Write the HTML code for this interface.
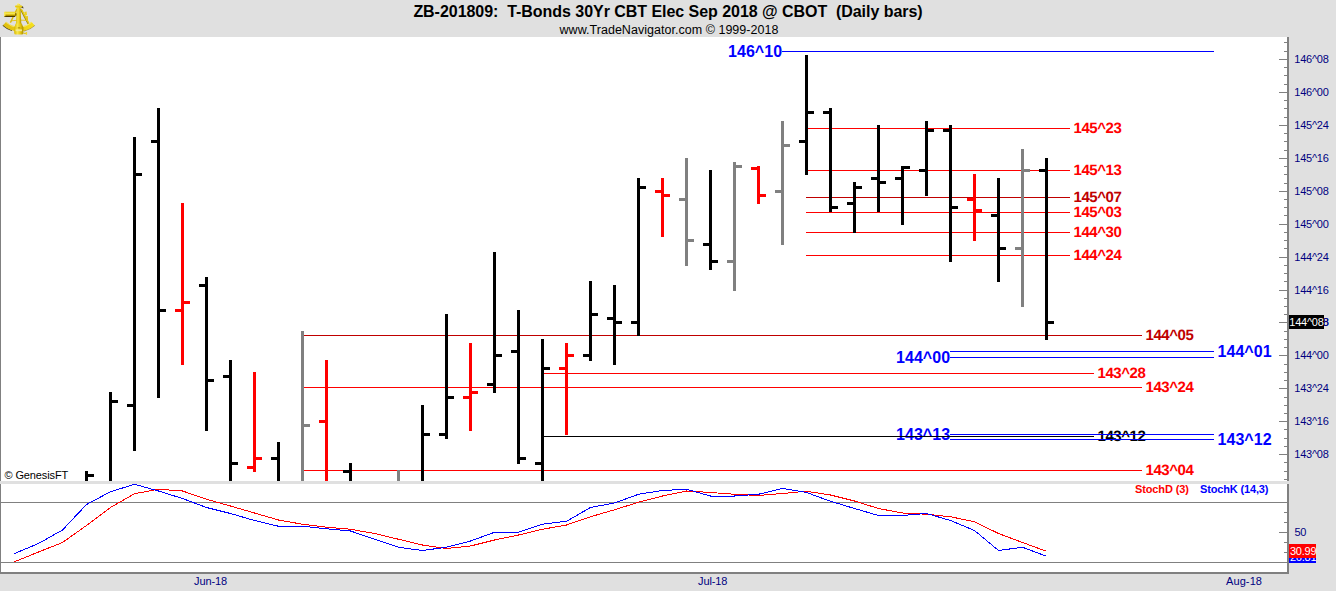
<!DOCTYPE html>
<html><head><meta charset="utf-8"><title>ZB-201809</title>
<style>
html,body{margin:0;padding:0}
body{width:1336px;height:591px;overflow:hidden;background:#e0e0e0;position:relative;font-family:"Liberation Sans",sans-serif}
#hdr{position:absolute;left:0;top:0;width:1336px;height:37px;background:#e0e0e0}
#title{position:absolute;left:0;top:2px;letter-spacing:-0.04px;width:1336px;text-align:center;font-weight:bold;font-size:16px;line-height:20px;color:#000;white-space:pre}
#sub{position:absolute;left:1px;top:22.5px;width:1336px;text-align:center;font-size:12.5px;letter-spacing:0.03px;line-height:14px;color:#000;white-space:pre}
#main{position:absolute;left:0;top:37px;width:1287px;height:444px;background:#fff;overflow:hidden}
#main i,#ov i,#ov2 i{position:absolute;display:block}
#plot{position:absolute;left:0;top:-37px;width:1336px;height:591px}
#plot i{position:absolute;display:block}
#plot b{position:absolute;display:block;white-space:nowrap}
.l14{font-size:15px;line-height:14px;letter-spacing:-0.42px;text-rendering:geometricPrecision}
.l16{font-size:16px;line-height:16px;letter-spacing:0.05px}
.ax{position:absolute;font-size:11px;line-height:12px;color:#000080;white-space:nowrap;letter-spacing:-0.25px}
.vb{position:absolute;background:#808080}
#st{position:absolute;left:0;top:484px;width:1287px;height:88px;background:#fff;overflow:hidden}
.t11{position:absolute;font-size:11px;line-height:12px;white-space:nowrap}
</style></head><body>
<div id="hdr">
<svg style="position:absolute;left:0;top:0" width="40" height="37" viewBox="0 0 40 37">
<defs>
<linearGradient id="gcol" x1="0" x2="1" y1="0" y2="0"><stop offset="0" stop-color="#d8b800"/><stop offset="0.35" stop-color="#f7e54a"/><stop offset="0.7" stop-color="#e2c20c"/><stop offset="1" stop-color="#a88c00"/></linearGradient>
<linearGradient id="gtel" x1="0" x2="0" y1="0" y2="1"><stop offset="0" stop-color="#e9cc10"/><stop offset="0.3" stop-color="#f8ea55"/><stop offset="0.65" stop-color="#d4b000"/><stop offset="0.85" stop-color="#5a4400"/><stop offset="1" stop-color="#2a1e00"/></linearGradient>
<linearGradient id="garc" x1="0" x2="1" y1="0" y2="0"><stop offset="0" stop-color="#e0c010"/><stop offset="0.5" stop-color="#e8c912"/><stop offset="1" stop-color="#f6e11c"/></linearGradient>
</defs>
<!-- arc shadow -->
<path d="M2.96 25.35 A23.5 23.5 0 0 0 12 30.5" fill="none" stroke="#2e2400" stroke-width="1.3" opacity="0.85"/>
<path d="M24 30.9 A23.5 23.5 0 0 0 34.64 25.35" fill="none" stroke="#8a7200" stroke-width="1.1" opacity="0.7"/>
<!-- arc -->
<path d="M4.64 23.5 A21 21 0 0 0 32.96 23.5" fill="none" stroke="url(#garc)" stroke-width="4.6"/>
<path d="M5.8 22.25 A19.3 19.3 0 0 0 31.8 22.25" fill="none" stroke="#fbf08a" stroke-width="0.9" opacity="0.8"/>
<!-- arms -->
<path d="M17 9 L10.4 22.6" stroke="#d9bb08" stroke-width="1.4" fill="none"/>
<path d="M20.7 9.2 L28.3 23.6" stroke="#9a8200" stroke-width="1.8" fill="none"/>
<path d="M21.2 9 L28.8 23.4" stroke="#e8cb14" stroke-width="1.4" fill="none"/>
<path d="M11.5 20.8 Q19 19.6 27.3 20.4" stroke="#e2c410" stroke-width="0.9" fill="none"/>
<!-- right fittings -->
<path d="M24.2 12 L26.6 11.4 L27 15 L25.4 15.6 Z" fill="#ecd11c"/>
<path d="M26 16.2 L27.8 16 L28 20.4 L26.6 20.6 Z" fill="#e4c610"/>
<!-- telescope -->
<rect x="4" y="11.8" width="11.4" height="5.2" rx="0.8" fill="url(#gtel)"/>
<rect x="4" y="12" width="1.4" height="4.4" rx="0.6" fill="#f6e65a"/>
<path d="M15 13 L17 13.6 L17 15.4 L15 16 Z" fill="#8a7000"/>
<!-- column -->
<path d="M16.7 7 L20.5 7 L21.3 24 L16.1 24 Z" fill="url(#gcol)"/>
<!-- cap & knob -->
<path d="M20.4 5.8 L23 6.4 L23.6 8.4 L21 7.6 Z" fill="#3a2c00" opacity="0.85"/>
<rect x="15" y="5.4" width="7.2" height="2" rx="0.8" fill="#e9cb10"/>
<path d="M16.3 5.6 Q18.6 1.8 21 5.6 Z" fill="#f0d822"/>
<ellipse cx="18.1" cy="3.9" rx="1.2" ry="0.7" fill="#fbf08a"/>
<!-- base -->
<path d="M15.6 23.6 L21.8 23.6 L23.4 27.6 L23.4 33 Q23.4 34.6 21.6 34.6 L16 34.6 Q14.2 34.6 14.2 33 L14.2 27.6 Z" fill="url(#gcol)"/>
<rect x="15.6" y="29.4" width="6.4" height="1.8" fill="#f3ea9a" opacity="0.9"/>
<rect x="17.8" y="27.4" width="2.4" height="0.9" fill="#8a7000" opacity="0.8"/>
<!-- screw -->
<rect x="23.4" y="32.8" width="2.8" height="1" fill="#dcbc08"/>
<rect x="25.8" y="31.9" width="1.3" height="2.9" rx="0.4" fill="#f0d622"/>

</svg>
<div id="title">ZB-201809:  T-Bonds 30Yr CBT Elec Sep 2018 @ CBOT  (Daily bars)</div>
<div id="sub">www.TradeNavigator.com © 1999-2018</div>
</div>
<div id="main"><div id="plot">
<b class="l14" style="left:1073.5px;top:121.5px;color:#f00">145^23</b>
<b class="l14" style="left:1073.5px;top:163.5px;color:#f00">145^13</b>
<b class="l14" style="left:1073.5px;top:190.5px;color:#c00000">145^07</b>
<b class="l14" style="left:1073.5px;top:205.5px;color:#f00">145^03</b>
<b class="l14" style="left:1073.5px;top:225.5px;color:#f00">144^30</b>
<b class="l14" style="left:1073.5px;top:248.5px;color:#f00">144^24</b>
<b class="l14" style="left:1145.5px;top:328.5px;color:#c00000">144^05</b>
<b class="l14" style="left:1097.5px;top:366.5px;color:#f00">143^28</b>
<b class="l14" style="left:1145.5px;top:380.5px;color:#f00">143^24</b>
<b class="l14" style="left:1145.5px;top:463.5px;color:#f00">143^04</b>
<b class="l14" style="left:1097.5px;top:429.5px;color:#000">143^12</b>
<b class="l16" style="left:728px;top:44px;color:#00f">146^10</b>
<b class="l16" style="left:896px;top:350px;color:#00f">144^00</b>
<b class="l16" style="left:1217.5px;top:344px;color:#00f">144^01</b>
<b class="l16" style="left:896px;top:427px;color:#00f">143^13</b>
<b class="l16" style="left:1217.5px;top:432px;color:#00f">143^12</b>
<i style="left:806px;top:128px;width:264px;height:1px;background:#f00"></i>
<i style="left:806px;top:170px;width:264px;height:1px;background:#f00"></i>
<i style="left:806px;top:197px;width:264px;height:1px;background:#c00000"></i>
<i style="left:806px;top:212px;width:264px;height:1px;background:#f00"></i>
<i style="left:806px;top:232px;width:264px;height:1px;background:#f00"></i>
<i style="left:806px;top:255px;width:264px;height:1px;background:#f00"></i>
<i style="left:304px;top:335px;width:838px;height:1px;background:#c00000"></i>
<i style="left:542px;top:373px;width:552px;height:1px;background:#f00"></i>
<i style="left:304px;top:387px;width:838px;height:1px;background:#f00"></i>
<i style="left:304px;top:470px;width:838px;height:1px;background:#f00"></i>
<i style="left:542px;top:436px;width:552px;height:1px;background:#000"></i>
<i style="left:782px;top:51px;width:432px;height:1px;background:#00f"></i>
<i style="left:950px;top:351px;width:264px;height:1px;background:#00f"></i>
<i style="left:950px;top:357px;width:264px;height:1px;background:#00f"></i>
<i style="left:950px;top:434px;width:264px;height:1px;background:#00f"></i>
<i style="left:950px;top:439px;width:264px;height:1px;background:#00f"></i>
<i style="left:85px;top:471px;width:3px;height:10px;background:#000"></i>
<i style="left:88px;top:474px;width:6px;height:3px;background:#000"></i>
<i style="left:109px;top:392px;width:3px;height:89px;background:#000"></i>
<i style="left:112px;top:400px;width:6px;height:3px;background:#000"></i>
<i style="left:133px;top:137px;width:3px;height:314px;background:#000"></i>
<i style="left:127px;top:404px;width:6px;height:3px;background:#000"></i>
<i style="left:136px;top:173px;width:6px;height:3px;background:#000"></i>
<i style="left:157px;top:108px;width:3px;height:290px;background:#000"></i>
<i style="left:151px;top:140px;width:6px;height:3px;background:#000"></i>
<i style="left:160px;top:309px;width:6px;height:3px;background:#000"></i>
<i style="left:181px;top:203px;width:3px;height:162px;background:#f00"></i>
<i style="left:175px;top:309px;width:6px;height:3px;background:#f00"></i>
<i style="left:184px;top:301px;width:6px;height:3px;background:#f00"></i>
<i style="left:205px;top:277px;width:3px;height:154px;background:#000"></i>
<i style="left:199px;top:284px;width:6px;height:3px;background:#000"></i>
<i style="left:208px;top:379px;width:6px;height:3px;background:#000"></i>
<i style="left:229px;top:360px;width:3px;height:121px;background:#000"></i>
<i style="left:223px;top:375px;width:6px;height:3px;background:#000"></i>
<i style="left:232px;top:462px;width:6px;height:3px;background:#000"></i>
<i style="left:253px;top:372px;width:3px;height:100px;background:#f00"></i>
<i style="left:247px;top:466px;width:6px;height:3px;background:#f00"></i>
<i style="left:256px;top:457px;width:6px;height:3px;background:#f00"></i>
<i style="left:277px;top:442px;width:3px;height:39px;background:#000"></i>
<i style="left:271px;top:457px;width:6px;height:3px;background:#000"></i>
<i style="left:301px;top:331px;width:3px;height:150px;background:#808080"></i>
<i style="left:304px;top:424px;width:6px;height:3px;background:#808080"></i>
<i style="left:325px;top:360px;width:3px;height:121px;background:#f00"></i>
<i style="left:319px;top:420px;width:6px;height:3px;background:#f00"></i>
<i style="left:349px;top:463px;width:3px;height:18px;background:#000"></i>
<i style="left:343px;top:470px;width:6px;height:3px;background:#000"></i>
<i style="left:397px;top:470px;width:3px;height:11px;background:#808080"></i>
<i style="left:421px;top:405px;width:3px;height:76px;background:#000"></i>
<i style="left:424px;top:433px;width:6px;height:3px;background:#000"></i>
<i style="left:445px;top:314px;width:3px;height:125px;background:#000"></i>
<i style="left:439px;top:433px;width:6px;height:3px;background:#000"></i>
<i style="left:448px;top:396px;width:6px;height:3px;background:#000"></i>
<i style="left:469px;top:343px;width:3px;height:88px;background:#f00"></i>
<i style="left:463px;top:396px;width:6px;height:3px;background:#f00"></i>
<i style="left:472px;top:391px;width:6px;height:3px;background:#f00"></i>
<i style="left:493px;top:252px;width:3px;height:141px;background:#000"></i>
<i style="left:487px;top:383px;width:6px;height:3px;background:#000"></i>
<i style="left:496px;top:354px;width:6px;height:3px;background:#000"></i>
<i style="left:517px;top:310px;width:3px;height:154px;background:#000"></i>
<i style="left:511px;top:350px;width:6px;height:3px;background:#000"></i>
<i style="left:520px;top:457px;width:6px;height:3px;background:#000"></i>
<i style="left:541px;top:339px;width:3px;height:142px;background:#000"></i>
<i style="left:535px;top:462px;width:6px;height:3px;background:#000"></i>
<i style="left:544px;top:367px;width:6px;height:3px;background:#000"></i>
<i style="left:565px;top:343px;width:3px;height:92px;background:#f00"></i>
<i style="left:559px;top:367px;width:6px;height:3px;background:#f00"></i>
<i style="left:568px;top:354px;width:6px;height:3px;background:#f00"></i>
<i style="left:589px;top:281px;width:3px;height:80px;background:#000"></i>
<i style="left:583px;top:354px;width:6px;height:3px;background:#000"></i>
<i style="left:592px;top:313px;width:6px;height:3px;background:#000"></i>
<i style="left:613px;top:285px;width:3px;height:80px;background:#000"></i>
<i style="left:607px;top:317px;width:6px;height:3px;background:#000"></i>
<i style="left:616px;top:321px;width:6px;height:3px;background:#000"></i>
<i style="left:637px;top:178px;width:3px;height:158px;background:#000"></i>
<i style="left:631px;top:321px;width:6px;height:3px;background:#000"></i>
<i style="left:640px;top:186px;width:6px;height:3px;background:#000"></i>
<i style="left:661px;top:178px;width:3px;height:59px;background:#f00"></i>
<i style="left:655px;top:190px;width:6px;height:3px;background:#f00"></i>
<i style="left:664px;top:194px;width:6px;height:3px;background:#f00"></i>
<i style="left:685px;top:158px;width:3px;height:108px;background:#808080"></i>
<i style="left:679px;top:198px;width:6px;height:3px;background:#808080"></i>
<i style="left:688px;top:239px;width:6px;height:3px;background:#808080"></i>
<i style="left:709px;top:170px;width:3px;height:100px;background:#000"></i>
<i style="left:703px;top:243px;width:6px;height:3px;background:#000"></i>
<i style="left:712px;top:260px;width:6px;height:3px;background:#000"></i>
<i style="left:733px;top:162px;width:3px;height:129px;background:#808080"></i>
<i style="left:727px;top:260px;width:6px;height:3px;background:#808080"></i>
<i style="left:736px;top:165px;width:6px;height:3px;background:#808080"></i>
<i style="left:757px;top:166px;width:3px;height:38px;background:#f00"></i>
<i style="left:751px;top:167px;width:6px;height:3px;background:#f00"></i>
<i style="left:760px;top:194px;width:6px;height:3px;background:#f00"></i>
<i style="left:781px;top:121px;width:3px;height:124px;background:#808080"></i>
<i style="left:775px;top:190px;width:6px;height:3px;background:#808080"></i>
<i style="left:784px;top:144px;width:6px;height:3px;background:#808080"></i>
<i style="left:805px;top:55px;width:3px;height:120px;background:#000"></i>
<i style="left:799px;top:140px;width:6px;height:3px;background:#000"></i>
<i style="left:808px;top:111px;width:6px;height:3px;background:#000"></i>
<i style="left:829px;top:108px;width:3px;height:104px;background:#000"></i>
<i style="left:823px;top:111px;width:6px;height:3px;background:#000"></i>
<i style="left:832px;top:206px;width:6px;height:3px;background:#000"></i>
<i style="left:853px;top:182px;width:3px;height:51px;background:#000"></i>
<i style="left:847px;top:202px;width:6px;height:3px;background:#000"></i>
<i style="left:856px;top:186px;width:6px;height:3px;background:#000"></i>
<i style="left:877px;top:125px;width:3px;height:87px;background:#000"></i>
<i style="left:871px;top:177px;width:6px;height:3px;background:#000"></i>
<i style="left:880px;top:181px;width:6px;height:3px;background:#000"></i>
<i style="left:901px;top:166px;width:3px;height:59px;background:#000"></i>
<i style="left:895px;top:177px;width:6px;height:3px;background:#000"></i>
<i style="left:904px;top:166px;width:6px;height:3px;background:#000"></i>
<i style="left:925px;top:121px;width:3px;height:75px;background:#000"></i>
<i style="left:919px;top:169px;width:6px;height:3px;background:#000"></i>
<i style="left:928px;top:129px;width:6px;height:3px;background:#000"></i>
<i style="left:949px;top:125px;width:3px;height:137px;background:#000"></i>
<i style="left:943px;top:129px;width:6px;height:3px;background:#000"></i>
<i style="left:952px;top:206px;width:6px;height:3px;background:#000"></i>
<i style="left:973px;top:174px;width:3px;height:67px;background:#f00"></i>
<i style="left:967px;top:198px;width:6px;height:3px;background:#f00"></i>
<i style="left:976px;top:209px;width:6px;height:3px;background:#f00"></i>
<i style="left:997px;top:178px;width:3px;height:104px;background:#000"></i>
<i style="left:991px;top:214px;width:6px;height:3px;background:#000"></i>
<i style="left:1000px;top:247px;width:6px;height:3px;background:#000"></i>
<i style="left:1021px;top:149px;width:3px;height:158px;background:#808080"></i>
<i style="left:1015px;top:247px;width:6px;height:3px;background:#808080"></i>
<i style="left:1024px;top:169px;width:6px;height:3px;background:#808080"></i>
<i style="left:1045px;top:158px;width:3px;height:182px;background:#000"></i>
<i style="left:1039px;top:169px;width:6px;height:3px;background:#000"></i>
<i style="left:1048px;top:321px;width:6px;height:3px;background:#000"></i>
</div>
<span class="t11" style="left:4.5px;top:432px;color:#000;letter-spacing:-0.12px">© GenesisFT</span>
</div>
<!-- axis lines -->
<div class="vb" style="left:0;top:37px;width:1px;height:444px"></div>
<div class="vb" style="left:1287px;top:37px;width:2px;height:444px"></div>
<div id="ov"><i style="left:1284px;top:42px;width:3px;height:1px;background:#808080"></i>
<i style="left:1284px;top:51px;width:3px;height:1px;background:#808080"></i>
<i style="left:1284px;top:67px;width:3px;height:1px;background:#808080"></i>
<i style="left:1284px;top:75px;width:3px;height:1px;background:#808080"></i>
<i style="left:1284px;top:84px;width:3px;height:1px;background:#808080"></i>
<i style="left:1284px;top:100px;width:3px;height:1px;background:#808080"></i>
<i style="left:1284px;top:108px;width:3px;height:1px;background:#808080"></i>
<i style="left:1284px;top:117px;width:3px;height:1px;background:#808080"></i>
<i style="left:1284px;top:133px;width:3px;height:1px;background:#808080"></i>
<i style="left:1284px;top:141px;width:3px;height:1px;background:#808080"></i>
<i style="left:1284px;top:150px;width:3px;height:1px;background:#808080"></i>
<i style="left:1284px;top:166px;width:3px;height:1px;background:#808080"></i>
<i style="left:1284px;top:174px;width:3px;height:1px;background:#808080"></i>
<i style="left:1284px;top:183px;width:3px;height:1px;background:#808080"></i>
<i style="left:1284px;top:199px;width:3px;height:1px;background:#808080"></i>
<i style="left:1284px;top:207px;width:3px;height:1px;background:#808080"></i>
<i style="left:1284px;top:215px;width:3px;height:1px;background:#808080"></i>
<i style="left:1284px;top:232px;width:3px;height:1px;background:#808080"></i>
<i style="left:1284px;top:240px;width:3px;height:1px;background:#808080"></i>
<i style="left:1284px;top:248px;width:3px;height:1px;background:#808080"></i>
<i style="left:1284px;top:265px;width:3px;height:1px;background:#808080"></i>
<i style="left:1284px;top:273px;width:3px;height:1px;background:#808080"></i>
<i style="left:1284px;top:281px;width:3px;height:1px;background:#808080"></i>
<i style="left:1284px;top:298px;width:3px;height:1px;background:#808080"></i>
<i style="left:1284px;top:306px;width:3px;height:1px;background:#808080"></i>
<i style="left:1284px;top:314px;width:3px;height:1px;background:#808080"></i>
<i style="left:1284px;top:331px;width:3px;height:1px;background:#808080"></i>
<i style="left:1284px;top:339px;width:3px;height:1px;background:#808080"></i>
<i style="left:1284px;top:347px;width:3px;height:1px;background:#808080"></i>
<i style="left:1284px;top:364px;width:3px;height:1px;background:#808080"></i>
<i style="left:1284px;top:372px;width:3px;height:1px;background:#808080"></i>
<i style="left:1284px;top:380px;width:3px;height:1px;background:#808080"></i>
<i style="left:1284px;top:397px;width:3px;height:1px;background:#808080"></i>
<i style="left:1284px;top:405px;width:3px;height:1px;background:#808080"></i>
<i style="left:1284px;top:413px;width:3px;height:1px;background:#808080"></i>
<i style="left:1284px;top:429px;width:3px;height:1px;background:#808080"></i>
<i style="left:1284px;top:438px;width:3px;height:1px;background:#808080"></i>
<i style="left:1284px;top:446px;width:3px;height:1px;background:#808080"></i>
<i style="left:1284px;top:462px;width:3px;height:1px;background:#808080"></i>
<i style="left:1284px;top:471px;width:3px;height:1px;background:#808080"></i>
<i style="left:1284px;top:479px;width:3px;height:1px;background:#808080"></i>
<i style="left:1279px;top:59px;width:8px;height:1px;background:#808080"></i>
<span class="ax" style="left:1294.3px;top:53px">146^08</span>
<i style="left:1279px;top:92px;width:8px;height:1px;background:#808080"></i>
<span class="ax" style="left:1294.3px;top:86px">146^00</span>
<i style="left:1279px;top:125px;width:8px;height:1px;background:#808080"></i>
<span class="ax" style="left:1294.3px;top:119px">145^24</span>
<i style="left:1279px;top:158px;width:8px;height:1px;background:#808080"></i>
<span class="ax" style="left:1294.3px;top:152px">145^16</span>
<i style="left:1279px;top:191px;width:8px;height:1px;background:#808080"></i>
<span class="ax" style="left:1294.3px;top:185px">145^08</span>
<i style="left:1279px;top:224px;width:8px;height:1px;background:#808080"></i>
<span class="ax" style="left:1294.3px;top:218px">145^00</span>
<i style="left:1279px;top:257px;width:8px;height:1px;background:#808080"></i>
<span class="ax" style="left:1294.3px;top:251px">144^24</span>
<i style="left:1279px;top:290px;width:8px;height:1px;background:#808080"></i>
<span class="ax" style="left:1294.3px;top:284px">144^16</span>
<i style="left:1279px;top:322px;width:8px;height:1px;background:#808080"></i>
<span class="ax" style="left:1294.3px;top:316px">144^08</span>
<i style="left:1279px;top:355px;width:8px;height:1px;background:#808080"></i>
<span class="ax" style="left:1294.3px;top:349px">144^00</span>
<i style="left:1279px;top:388px;width:8px;height:1px;background:#808080"></i>
<span class="ax" style="left:1294.3px;top:382px">143^24</span>
<i style="left:1279px;top:421px;width:8px;height:1px;background:#808080"></i>
<span class="ax" style="left:1294.3px;top:415px">143^16</span>
<i style="left:1279px;top:454px;width:8px;height:1px;background:#808080"></i>
<span class="ax" style="left:1294.3px;top:448px">143^08</span></div>
<!-- price marker -->
<span class="ax" style="left:1294.3px;top:316px">144^08</span>
<div style="position:absolute;left:1289px;top:315px;width:35px;height:14px;background:#000"></div>
<span class="ax" style="left:1289.3px;top:316px;color:#fff">144^08</span>
<!-- stoch -->
<div id="st">
<svg style="position:absolute;left:0;top:0" width="1287" height="88" viewBox="0 484 1287 88">
<rect x="0" y="502" width="1287" height="1" fill="#808080"/>
<rect x="0" y="562" width="1287" height="1" fill="#808080"/>
<polyline shape-rendering="crispEdges" fill="none" stroke="#f00" stroke-width="1" points="14.5,561.75 38.5,552.00 62.5,542.50 86.5,525.50 110.5,507.50 134.5,493.75 158.5,489.25 182.5,491.00 206.5,499.25 230.5,506.00 254.5,513.00 278.5,520.00 302.5,524.25 326.5,527.25 350.5,529.25 374.5,533.50 398.5,539.25 422.5,545.00 446.5,548.50 470.5,546.00 494.5,540.00 518.5,535.00 542.5,529.25 566.5,525.00 590.5,516.75 614.5,509.75 638.5,502.25 662.5,496.00 686.5,491.00 710.5,492.50 734.5,494.25 758.5,495.50 782.5,493.50 806.5,491.25 830.5,495.00 854.5,501.00 878.5,508.50 902.5,513.00 926.5,514.25 950.5,516.75 974.5,521.75 998.5,533.50 1022.5,542.50 1046.5,551.25"/>
<polyline shape-rendering="crispEdges" fill="none" stroke="#00f" stroke-width="1" points="14.5,553.50 38.5,543.50 62.5,530.00 86.5,504.50 110.5,491.75 134.5,484.25 158.5,491.00 182.5,498.50 206.5,507.50 230.5,513.50 254.5,520.50 278.5,526.25 302.5,526.25 326.5,528.75 350.5,531.00 374.5,539.25 398.5,547.25 422.5,550.50 446.5,547.25 470.5,541.00 494.5,532.25 518.5,532.25 542.5,524.25 566.5,521.25 590.5,507.50 614.5,503.00 638.5,494.25 662.5,490.50 686.5,489.25 710.5,496.00 734.5,496.00 758.5,494.25 782.5,488.50 806.5,492.50 830.5,501.25 854.5,508.50 878.5,515.50 902.5,515.50 926.5,513.50 950.5,520.50 974.5,530.50 998.5,550.50 1022.5,547.25 1046.5,556.25"/>
</svg>
<b class="t11" style="left:1135px;top:-1px;color:#f00;letter-spacing:-0.12px">StochD (3)</b>
<b class="t11" style="left:1200px;top:-1px;color:#00f;letter-spacing:-0.15px">StochK (14,3)</b>
</div>
<div class="vb" style="left:0;top:484px;width:1px;height:88px"></div>
<div class="vb" style="left:1287px;top:484px;width:2px;height:90px"></div>
<div class="vb" style="left:0;top:572px;width:1289px;height:2px"></div>
<div id="ov2">
<i style="left:1284px;top:512px;width:3px;height:1px;background:#808080"></i>
<i style="left:1284px;top:522px;width:3px;height:1px;background:#808080"></i>
<i style="left:1279px;top:532px;width:8px;height:1px;background:#808080"></i>
<i style="left:1284px;top:542px;width:3px;height:1px;background:#808080"></i>
<i style="left:1284px;top:552px;width:3px;height:1px;background:#808080"></i>
</div>
<span class="ax" style="left:1294.5px;top:526px">50</span>
<div style="position:absolute;left:1289px;top:549px;width:27px;height:14px;background:#00f"></div>
<span class="ax" style="left:1290px;top:551px;color:#fff">26.81</span>
<div style="position:absolute;left:1289px;top:544px;width:27px;height:14px;background:#f00"></div>
<span class="ax" style="left:1290px;top:545px;color:#fff">30.99</span>
<!-- dates -->
<span class="ax" style="left:194px;top:575px;letter-spacing:-0.12px">Jun-18</span>
<span class="ax" style="left:698px;top:575px;letter-spacing:-0.12px">Jul-18</span>
<span class="ax" style="left:1226px;top:575px;letter-spacing:0.1px">Aug-18</span>
</body></html>
